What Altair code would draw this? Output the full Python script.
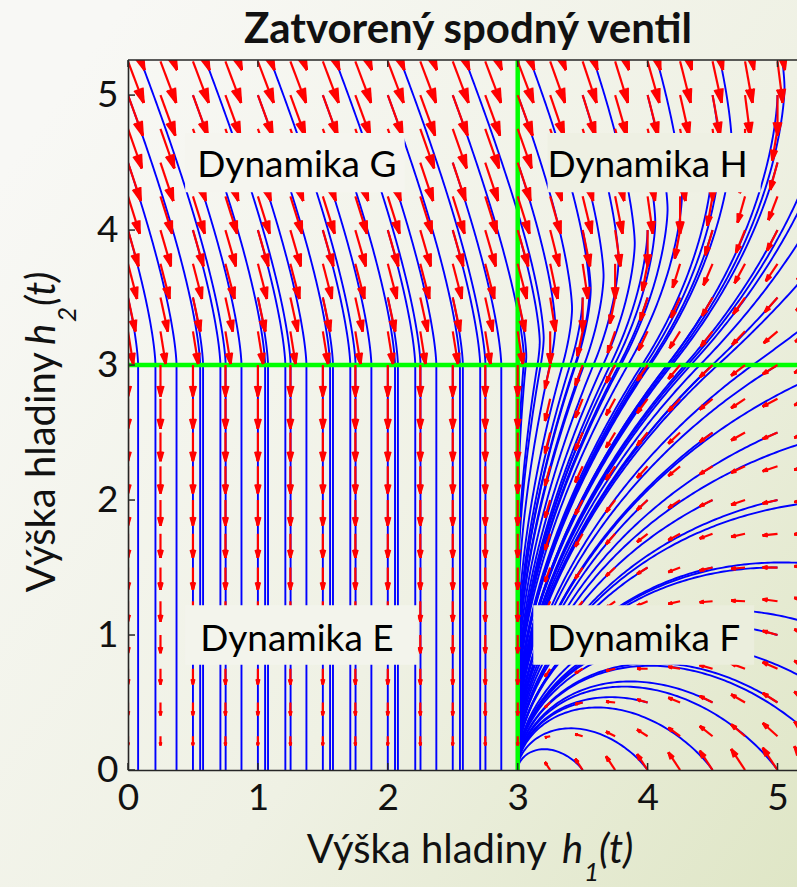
import math
import altair as alt
import pandas as pd

# ------------------------------------------------------------------
# Values
# ------------------------------------------------------------------
title_text = "Zatvorený spodný ventil"
x_ticks = [0, 1, 2, 3, 4, 5]
y_ticks = [0, 1, 2, 3, 4, 5]
x_domain = [0.0, 5.15]
y_domain = [0.0, 5.26]

# switching levels (green lines)
switch_level = 3.0

# quiver grid (red arrows)
grid_h1 = [0.0, 0.25, 0.5, 0.75, 1.0, 1.25, 1.5, 1.75, 2.0, 2.25, 2.5, 2.75,
           3.0, 3.25, 3.5, 3.75, 4.0, 4.25, 4.5, 4.75, 5.0, 5.25, 5.5]
grid_h2 = [0.0, 0.25, 0.5, 0.75, 1.0, 1.25, 1.5, 1.75, 2.0, 2.25, 2.5, 2.75,
           3.0, 3.25, 3.5, 3.75, 4.0, 4.25, 4.5, 4.75, 5.0, 5.25, 5.5]

# streamline seed grid (blue lines)
seed_h1 = [0.0, 0.5, 1.0, 1.5, 2.0, 2.5, 3.0, 3.5, 4.0, 4.5, 5.0, 5.5]
seed_h2 = [0.0, 0.5, 1.0, 1.5, 2.0, 2.5, 3.0, 3.5, 4.0, 4.5, 5.0, 5.5]

# two-tank model coefficients estimated from the arrow directions
k_out = 1.0      # outflow of tank 2
k_h1 = 0.6       # exchange flow seen by tank 1
k_fill = 0.87    # exchange flow filling tank 2
k_drain = 0.0    # exchange flow draining tank 2
arrow_len = 0.134

region_labels = ["Dynamika G", "Dynamika H", "Dynamika E", "Dynamika F"]
label_h1 = [1.30, 4.00, 1.30, 3.97]
label_h2 = [4.39, 4.39, 0.88, 0.88]
box_h1_lo = [0.44, 3.23, 0.44, 3.12]
box_h1_hi = [2.13, 4.87, 2.23, 4.82]
box_h2_lo = [4.28, 4.28, 0.78, 0.78]
box_h2_hi = [4.72, 4.72, 1.22, 1.22]

# ------------------------------------------------------------------
# Layout / style
# ------------------------------------------------------------------
W, H = 669, 710
PL, PT = 128, 60
FONT = "Lato"
PX = W / (x_domain[1] - x_domain[0])
PY = H / (y_domain[1] - y_domain[0])
box_colors = {"Dynamika G": "#f5f5ef", "Dynamika H": "#eef0e3",
              "Dynamika E": "#f3f4ec", "Dynamika F": "#ebeedd"}


def field(h1, h2):
    e1 = max(h1 - switch_level, 0.0)
    e2 = max(h2 - switch_level, 0.0)
    d = e1 - e2
    q = math.copysign(math.sqrt(abs(d)), d)
    u = -k_h1 * q
    v = (k_fill if q > 0 else k_drain) * q - k_out * math.sqrt(max(h2, 0.0))
    return u, v


def direction(h1, h2):
    u, v = field(h1, h2)
    px, py = u * PX, v * PY
    n = math.hypot(px, py)
    if n < 1e-9:
        return None
    return px / n / PX, py / n / PY


def trace(h1, h2, step=1.0, nmax=4000):
    pts = [(h1, h2)]
    for _ in range(nmax):
        d1 = direction(h1, h2)
        if d1 is None:
            break
        d2 = direction(h1 + 0.5 * step * d1[0], h2 + 0.5 * step * d1[1]) or d1
        h1 += step * d2[0]
        h2 += step * d2[1]
        pts.append((h1, h2))
        if h2 < -0.01 or h1 < -0.02 or h1 > 5.7 or h2 > 5.7:
            break
    return pts


rows = []
sid = 0
seen_vertical = set()
for sx in seed_h1:
    for sy in seed_h2:
        if sx <= switch_level and sy <= switch_level:
            if sx in seen_vertical:
                continue
            seen_vertical.add(sx)
            sy_use = switch_level if sx < switch_level else sy
        else:
            sy_use = sy
        pts = trace(sx, sy_use)
        if len(pts) < 3:
            continue
        keep = pts[::3]
        if keep[-1] != pts[-1]:
            keep.append(pts[-1])
        for i, (a, b) in enumerate(keep):
            rows.append({"h1": round(a, 4), "h2": round(b, 4), "sid": sid, "i": i})
        sid += 1
df_lines = pd.DataFrame(rows)

# quiver arrows: shaft plus a fan of barbs that reads as a solid head
seg = []
alpha, beta = 0.33, 0.3
fan = [1.0, 0.6, 0.2, -0.2, -0.6, -1.0]
for gx in grid_h1:
    for gy in grid_h2:
        u, v = field(gx, gy)
        if math.hypot(u, v) < 1e-9:
            continue
        tx, ty = gx + arrow_len * u, gy + arrow_len * v
        vx, vy = arrow_len * u * PX, arrow_len * v * PY
        seg.append({"h1": gx, "h2": gy, "h1e": tx, "h2e": ty})
        for sgn in fan:
            bx = (tx * PX) - alpha * (vx - sgn * beta * vy)
            by = (ty * PY) - alpha * (vy + sgn * beta * vx)
            seg.append({"h1": tx, "h2": ty, "h1e": bx / PX, "h2e": by / PY})
df_arrows = pd.DataFrame(seg)

df_green = pd.DataFrame({
    "h1": [switch_level, x_domain[0]], "h1e": [switch_level, x_domain[1]],
    "h2": [y_domain[0], switch_level], "h2e": [y_domain[1], switch_level]})

df_labels = pd.DataFrame({"label": region_labels, "h1": label_h1, "h2": label_h2,
                          "lo1": box_h1_lo, "hi1": box_h1_hi,
                          "lo2": box_h2_lo, "hi2": box_h2_hi})

xs = alt.Scale(domain=x_domain, nice=False, zero=False)
ys = alt.Scale(domain=y_domain, nice=False, zero=False)
x_axis = alt.Axis(values=x_ticks, title=None, grid=False, ticks=False,
                  labelFont=FONT, labelFontSize=37, labelColor="#111111",
                  labelPadding=10, labelFlush=False, labelOverlap=False,
                  domainColor="#262626", domainWidth=1.6, zindex=1, format="d")
y_axis = alt.Axis(values=y_ticks, title=None, grid=False, ticks=False,
                  labelFont=FONT, labelFontSize=37, labelColor="#111111",
                  labelPadding=10, labelFlush=False, labelOverlap=False,
                  domainColor="#262626", domainWidth=1.6, zindex=1, format="d")
X = alt.X("h1:Q", scale=xs, axis=x_axis)
Y = alt.Y("h2:Q", scale=ys, axis=y_axis)

one = pd.DataFrame({"k": [0]})

bg = alt.Chart(one).mark_rect(
    clip=False,
    color=alt.Gradient(gradient="linear",
                       stops=[alt.GradientStop(color="#f8f8f5", offset=0),
                              alt.GradientStop(color="#eff1e4", offset=0.55),
                              alt.GradientStop(color="#dfe6c6", offset=1)],
                       x1=0, y1=0.2, x2=1, y2=1)
).encode(x=alt.value(-PL), x2=alt.value(W), y=alt.value(-PT), y2=alt.value(887 - PT))

lines = alt.Chart(df_lines).mark_line(color="#0000ff", strokeWidth=1.9, clip=True).encode(
    x=X, y=Y, detail="sid:N", order="i:Q")

green = alt.Chart(df_green).mark_rule(color="#00ff00", strokeWidth=4.5, clip=True).encode(
    x=X, y=Y, x2="h1e:Q", y2="h2e:Q")

arrows = alt.Chart(df_arrows).mark_rule(color="#ff0000", strokeWidth=2.2, clip=True).encode(
    x=X, y=Y, x2="h1e:Q", y2="h2e:Q")

boxes = []
for lab in region_labels:
    boxes.append(alt.Chart(df_labels[df_labels.label == lab]).mark_rect(
        color=box_colors[lab]).encode(
        x=alt.X("lo1:Q", scale=xs, axis=x_axis), x2="hi1:Q",
        y=alt.Y("lo2:Q", scale=ys, axis=y_axis), y2="hi2:Q"))

texts = alt.Chart(df_labels).mark_text(font=FONT, fontSize=37, color="#000000",
                                       align="center", baseline="alphabetic").encode(
    x=X, y=Y, text="label:N")

frame_top = alt.Chart(one).mark_rule(color="#262626", strokeWidth=1.6).encode(
    x=alt.value(0), x2=alt.value(W), y=alt.value(0))
df_xt = pd.DataFrame({"h1": x_ticks})
df_yt = pd.DataFrame({"h2": y_ticks})
ticks_bottom = alt.Chart(df_xt).mark_rule(color="#262626", strokeWidth=1.5).encode(
    x=X, y=alt.value(H), y2=alt.value(H - 7))
ticks_top = alt.Chart(df_xt).mark_rule(color="#262626", strokeWidth=1.5).encode(
    x=X, y=alt.value(0), y2=alt.value(7))
ticks_left = alt.Chart(df_yt).mark_rule(color="#262626", strokeWidth=1.5).encode(
    y=Y, x=alt.value(0), x2=alt.value(7))


def txt(s, x, y, size, **kw):
    return alt.Chart(one).mark_text(text=s, font=FONT, fontSize=size, color="#111111",
                                    baseline="alphabetic", **kw).encode(
        x=alt.value(x), y=alt.value(y))


title = txt(title_text, 340, -17, 42, fontWeight="bold", align="center")

xl = [txt("Výška hladiny", 419, 803, 40, align="right"),
      txt("h", 434, 803, 40, align="left", fontStyle="italic"),
      txt("1", 456, 821, 26, align="left", fontStyle="italic"),
      txt("(t)", 471, 803, 40, align="left", fontStyle="italic")]
yl = [txt("Výška hladiny", -73, 292, 40, align="right", angle=270),
      txt("h", -73, 285, 40, align="left", angle=270, fontStyle="italic"),
      txt("2", -52, 262, 26, align="left", angle=270, fontStyle="italic"),
      txt("(t)", -73, 246, 40, align="left", angle=270, fontStyle="italic")]

chart = alt.layer(
    bg, lines, green, arrows, *boxes, texts, frame_top, ticks_bottom, ticks_top,
    ticks_left, title, *xl, *yl
).properties(
    width=W, height=H,
    padding={"left": PL, "top": PT, "right": 0, "bottom": 887 - PT - H},
    autosize=alt.AutoSizeParams(type="none")
).configure_view(stroke=None)

chart.save("out.html", embed_options={"renderer": "svg", "actions": False})
